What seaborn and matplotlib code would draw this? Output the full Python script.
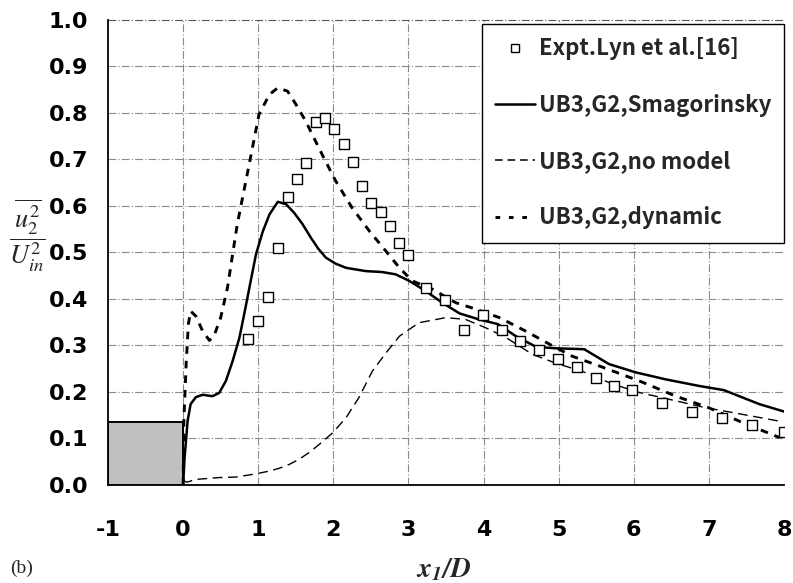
import numpy as np
import pandas as pd
import matplotlib
matplotlib.use("Agg")
import matplotlib.pyplot as plt
from matplotlib.patches import Rectangle
from matplotlib.lines import Line2D
import seaborn as sns

# Measured data (Lyn et al.) and LES predictions of the cross-stream normal stress
expt_x = [0.87, 1.00, 1.13, 1.26, 1.39, 1.51, 1.64, 1.77, 1.89, 2.01, 2.14, 2.26,
          2.38, 2.50, 2.63, 2.75, 2.87, 3.00, 3.24, 3.49, 3.74, 3.99, 4.24, 4.48,
          4.74, 4.99, 5.24, 5.49, 5.74, 5.98, 6.38, 6.78, 7.17, 7.58, 8.00]
expt_y = [0.313, 0.353, 0.404, 0.509, 0.620, 0.659, 0.692, 0.781, 0.789, 0.766,
          0.734, 0.694, 0.642, 0.606, 0.587, 0.558, 0.520, 0.495, 0.424, 0.397,
          0.334, 0.366, 0.333, 0.310, 0.290, 0.272, 0.254, 0.230, 0.212, 0.204,
          0.176, 0.158, 0.144, 0.130, 0.113]

smag_x = [0.00, 0.02, 0.06, 0.10, 0.17, 0.26, 0.39, 0.48, 0.57, 0.66, 0.75, 0.83,
          0.90, 0.97, 1.06, 1.15, 1.26, 1.37, 1.48, 1.59, 1.70, 1.80, 1.90, 2.03,
          2.17, 2.43, 2.65, 2.83, 3.01, 3.23, 3.45, 3.68, 3.94, 4.19, 4.43, 4.70,
          4.96, 5.34, 5.67, 6.03, 6.43, 6.87, 7.20, 7.67, 8.00]
smag_y = [0.000, 0.060, 0.138, 0.174, 0.189, 0.194, 0.191, 0.198, 0.224, 0.267,
          0.317, 0.381, 0.439, 0.496, 0.545, 0.582, 0.609, 0.604, 0.585, 0.561,
          0.532, 0.508, 0.489, 0.476, 0.467, 0.460, 0.458, 0.453, 0.439, 0.417,
          0.392, 0.369, 0.356, 0.346, 0.320, 0.297, 0.294, 0.292, 0.260, 0.242,
          0.227, 0.213, 0.204, 0.174, 0.158]

nomodel_x = [0.00, 0.05, 0.17, 0.48, 0.70, 0.97, 1.15, 1.28, 1.41, 1.54, 1.68,
             1.81, 1.99, 2.17, 2.34, 2.52, 2.70, 2.88, 3.14, 3.50, 3.76, 4.03,
             4.30, 4.65, 4.96, 5.32, 5.72, 6.07, 6.56, 6.96, 7.31, 7.98]
nomodel_y = [0.010, 0.006, 0.012, 0.016, 0.017, 0.024, 0.030, 0.036, 0.044, 0.055,
             0.070, 0.087, 0.112, 0.145, 0.188, 0.245, 0.284, 0.320, 0.349, 0.360,
             0.356, 0.338, 0.317, 0.281, 0.262, 0.244, 0.217, 0.199, 0.181, 0.166,
             0.156, 0.136]

dyn_x = [0.00, 0.01, 0.04, 0.07, 0.10, 0.17, 0.26, 0.35, 0.41, 0.50, 0.59, 0.72,
         0.88, 1.01, 1.15, 1.26, 1.39, 1.50, 1.63, 1.85, 2.03, 2.25, 2.48, 2.70,
         2.88, 3.05, 3.32, 3.63, 3.90, 4.21, 4.56, 4.92, 5.18, 5.54, 6.07, 6.56,
         7.00, 7.45, 7.94]
dyn_y = [0.000, 0.138, 0.260, 0.346, 0.374, 0.363, 0.331, 0.311, 0.320, 0.360,
         0.424, 0.560, 0.690, 0.797, 0.840, 0.854, 0.847, 0.819, 0.783, 0.711,
         0.654, 0.596, 0.546, 0.503, 0.467, 0.439, 0.421, 0.392, 0.378, 0.360,
         0.331, 0.299, 0.277, 0.256, 0.224, 0.191, 0.166, 0.134, 0.102]

# Square cylinder cross-section drawn on the axis
body_x0, body_x1, body_h = -1.0, 0.0, 0.136

x_ticks = [-1, 0, 1, 2, 3, 4, 5, 6, 7, 8]
y_ticks = [0.0, 0.1, 0.2, 0.3, 0.4, 0.5, 0.6, 0.7, 0.8, 0.9, 1.0]

labels = ["Expt.Lyn et al.[16]", "UB3,G2,Smagorinsky",
          "UB3,G2,no model", "UB3,G2,dynamic"]

sns.set_style("white")
plt.rcParams["mathtext.fontset"] = "stix"

fig = plt.figure(figsize=(7.93, 5.83), dpi=100)
ax = fig.add_axes([0.1362, 0.1681, 0.8525, 0.7976])

grid_kw = dict(color="#8a8a8a", lw=0.8, ls=(0, (7, 2, 1, 2)), zorder=0)
for xv in x_ticks[1:-1]:
    ax.axvline(xv, **grid_kw)
for yv in y_ticks[1:]:
    ax.axhline(yv, clip_on=False, **grid_kw)
ax.lines[-1].set_color("#555555")

ax.add_patch(Rectangle((body_x0, 0), body_x1 - body_x0, body_h,
                       facecolor="#c0c0c0", edgecolor="black", lw=1.4, zorder=3))

sm_df = pd.DataFrame({"x": smag_x, "y": smag_y})
nm_df = pd.DataFrame({"x": nomodel_x, "y": nomodel_y})
dy_df = pd.DataFrame({"x": dyn_x, "y": dyn_y})
ex_df = pd.DataFrame({"x": expt_x, "y": expt_y})

sns.lineplot(data=nm_df, x="x", y="y", ax=ax, sort=False, estimator=None,
             color="black", lw=1.0, zorder=4)
ax.lines[-1].set_dashes((7, 4))
sns.lineplot(data=dy_df, x="x", y="y", ax=ax, sort=False, estimator=None,
             color="black", lw=2.1, zorder=4)
ax.lines[-1].set_dashes((2.6, 2.4))
sns.lineplot(data=sm_df, x="x", y="y", ax=ax, sort=False, estimator=None,
             color="black", lw=1.8, zorder=5)
sns.scatterplot(data=ex_df, x="x", y="y", ax=ax, marker="s", s=42,
                facecolor="white", edgecolor="black", linewidth=1.0, zorder=6)

ax.set_xlim(-1, 8)
ax.set_ylim(0, 1.0)
ax.set_xticks(x_ticks)
ax.set_yticks(y_ticks)
ax.set_xticklabels([str(v) for v in x_ticks])
ax.set_yticklabels([f"{v:.1f}" for v in y_ticks])
ax.set_xlabel("")
ax.set_ylabel("")

for s in ("top", "right"):
    ax.spines[s].set_visible(False)
for s in ("left", "bottom"):
    ax.spines[s].set_color("black")
    ax.spines[s].set_linewidth(1.3)

ax.tick_params(axis="both", width=1.2, labelsize=16, colors="black")
ax.tick_params(axis="y", direction="inout", length=11, pad=8.9)
ax.tick_params(axis="x", direction="out", length=7, pad=18)
for t in ax.get_xticklabels() + ax.get_yticklabels():
    t.set_fontfamily("DejaVu Sans")
    t.set_fontweight("bold")

handles = [
    Line2D([], [], ls="none", marker="s", ms=6, mfc="white", mec="black", mew=1.0),
    Line2D([], [], color="black", lw=1.8),
    Line2D([], [], color="black", lw=1.1, dashes=(5, 3.2)),
    Line2D([], [], color="black", lw=2.1, dashes=(1.6, 3.0)),
]
leg = fig.legend(handles, labels, loc="upper left",
                 bbox_to_anchor=(482 / 793, 1 - 24 / 583),
                 bbox_transform=fig.transFigure,
                 prop={"family": "Noto Sans CJK JP", "weight": "bold", "size": 16},
                 frameon=True, fancybox=False, framealpha=1.0, edgecolor="black",
                 handlelength=1.8, handletextpad=0.15, labelspacing=1.5,
                 borderpad=0.6, borderaxespad=0)
leg.get_frame().set_linewidth(1.0)

fig.text(27 / 793, 1 - 236 / 583,
         r"$\dfrac{\overline{u_2^2}}{U_{in}^2}$",
         fontsize=19, ha="center", va="center")
fig.text(444 / 793, 1 - 569 / 583, r"$\mathbfit{x_1/D}$",
         fontsize=20, ha="center", va="center")
fig.text(10 / 793, 1 - 568 / 583, "(b)", fontsize=14,
         family="Liberation Serif", ha="left", va="center")

fig.savefig("out.png", dpi=100, facecolor="white")
